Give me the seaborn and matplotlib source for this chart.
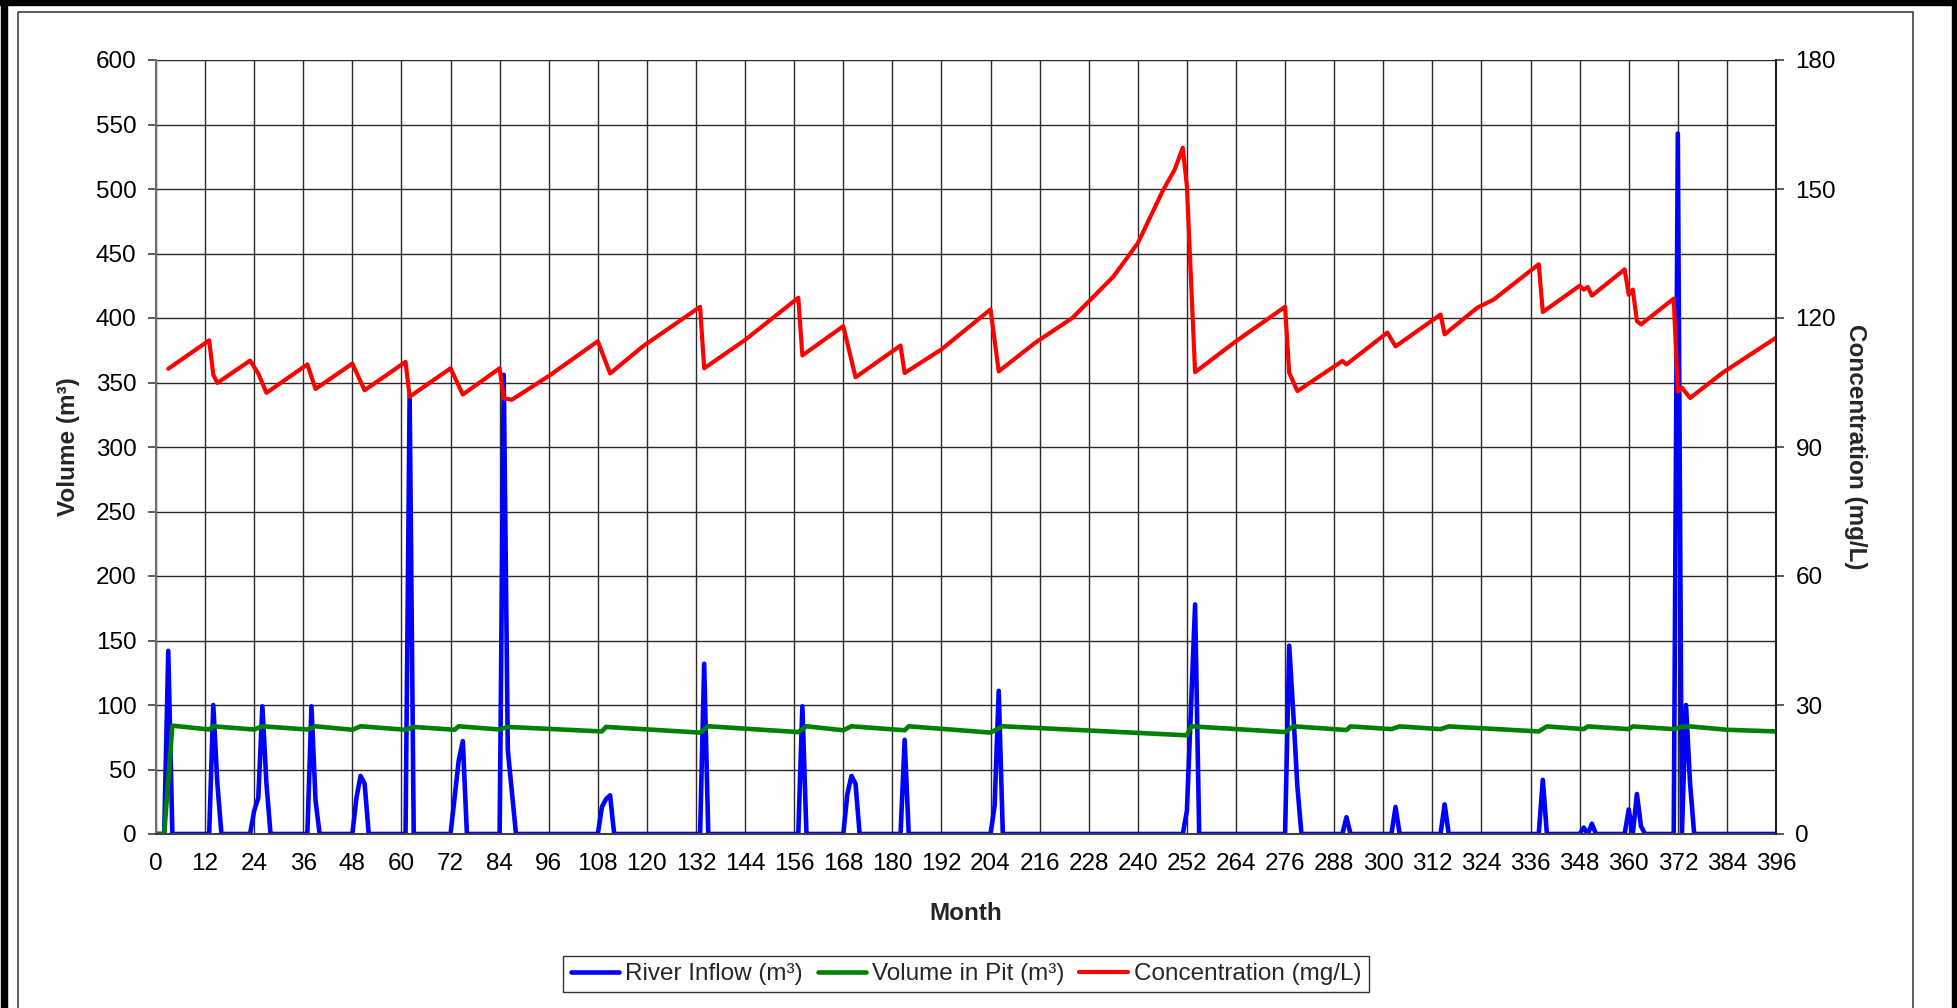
import matplotlib
matplotlib.use("Agg")
import matplotlib.pyplot as plt
import seaborn as sns
from matplotlib.patches import Rectangle
from matplotlib.lines import Line2D

# River inflow (m3): vertices (month, value)
inflow_month = [0, 2, 3, 4, 13, 14, 15, 16, 23, 24, 25, 26, 27, 28, 37, 38, 39, 40,
                48, 49, 50, 51, 52, 61, 62, 63, 72, 74, 75, 76, 84, 85, 86, 88,
                108, 109, 110, 111, 112, 133, 134, 135, 157, 158, 159,
                168, 169, 170, 171, 172, 182, 183, 184, 204, 205, 206, 207,
                251, 252, 254, 255, 276, 277, 278, 279, 280, 290, 291, 292,
                302, 303, 304, 314, 315, 316, 338, 339, 340, 348, 349, 350, 351, 352,
                359, 360, 361, 362, 363, 364, 371, 372, 373, 374, 375, 376, 396]
inflow_m3 = [0, 0, 142, 0, 0, 100, 39, 0, 0, 18, 28, 99, 39, 0, 0, 99, 26, 0,
             0, 28, 45, 39, 0, 0, 340, 0, 0, 57, 72, 0, 0, 356, 65, 0,
             0, 21, 27, 30, 0, 0, 132, 0, 0, 99, 0,
             0, 31, 45, 39, 0, 0, 73, 0, 0, 22, 111, 0,
             0, 18, 178, 0, 0, 146, 94, 37, 0, 0, 13, 0,
             0, 21, 0, 0, 23, 0, 0, 42, 0, 0, 5, 0, 8, 0,
             0, 19, 0, 31, 6, 0, 0, 543, 0, 100, 39, 0, 0]

# Volume in pit (m3)
pit_month = [0, 2, 4, 13, 14, 24, 26, 37, 39, 48, 50, 61, 63, 73, 74, 84, 86,
             109, 110, 133, 135, 157, 159, 168, 170, 183, 184, 204, 207,
             252, 253, 276, 278, 291, 292, 302, 304, 314, 316, 338, 340,
             349, 350, 360, 361, 371, 373, 375, 384, 396]
pit_m3 = [0, 0, 84, 81, 83.5, 81, 83.5, 81, 83.5, 80.8, 83.5, 80.8, 83, 80.8, 83.5, 81, 83,
          79.5, 83, 78.6, 83.5, 79, 83.5, 80.4, 83.5, 80.4, 83.5, 78.6, 83.5,
          76.5, 83.5, 79, 83.5, 80.6, 83.4, 81.3, 83.4, 81.3, 83.4, 79.5, 83.4,
          81.3, 83.4, 81.3, 83.4, 81.3, 83, 83.4, 80.8, 79.5]

# Concentration (mg/L), right axis
conc_month = [3, 13, 14, 15, 23, 25, 27, 37, 39, 48, 51, 61, 62, 72, 75, 84, 85, 87,
              96, 108, 111, 119, 133, 134, 144, 157, 158, 168, 171, 182, 183,
              192, 204, 206, 215, 224, 234, 240, 246, 249, 251, 252, 254,
              264, 276, 277, 279, 290, 291, 301, 303, 314, 315, 323, 327, 338, 339,
              348, 349, 350, 351, 359, 360, 361, 362, 363, 371, 372, 373, 375, 383, 396]
conc_mgl = [108.2, 114.8, 106.8, 104.9, 110.1, 107.1, 102.6, 109.2, 103.5, 109.4, 103.2,
            109.8, 101.7, 108.3, 102.2, 108.3, 101.3, 101.0,
            106.5, 114.6, 107.1, 113.4, 122.6, 108.3, 114.9, 124.7, 111.3, 118.1, 106.2,
            113.6, 107.2, 112.7, 122.0, 107.6, 114.3, 120.0, 129.6, 137.4, 149.4, 154.5,
            159.6, 150.6, 107.4, 114.6, 122.6, 107.3, 103.0, 110.0, 109.2, 116.6, 113.4,
            120.8, 116.2, 122.4, 124.3, 132.5, 121.4, 127.5, 126.6, 127.2, 125.2, 131.3,
            125.4, 126.6, 119.3, 118.5, 124.5, 102.9, 103.8, 101.4, 107.3, 115.4]

month_ticks = list(range(0, 397, 12))
vol_ticks = list(range(0, 601, 50))
conc_ticks = list(range(0, 181, 30))

sns.set_style("white")
plt.rcParams['font.family'] = ['Liberation Sans', 'DejaVu Sans']

W, H = 1957, 1008
fig = plt.figure(figsize=(W / 100, H / 100), dpi=100)
ax = fig.add_axes([156 / W, 1 - 834 / H, 1620 / W, 774 / H])
ax2 = ax.twinx()

sns.lineplot(x=inflow_month, y=inflow_m3, ax=ax, color='#0000ff', lw=3.3,
             estimator=None, label='River Inflow (m³)')
sns.lineplot(x=pit_month, y=pit_m3, ax=ax, color='#008000', lw=3.3,
             estimator=None, label='Volume in Pit (m³)')
sns.lineplot(x=conc_month, y=conc_mgl, ax=ax2, color='#ff0000', lw=3.0,
             estimator=None, label='Concentration (mg/L)')

for a in (ax, ax2):
    if a.get_legend() is not None:
        a.get_legend().remove()
    a.set_xlabel('')
    a.set_ylabel('')

ax.set_xlim(0, 396)
ax.set_ylim(0, 600)
ax2.set_ylim(0, 180)
ax.set_xticks(month_ticks)
ax.set_yticks(vol_ticks)
ax2.set_yticks(conc_ticks)

ax.set_axisbelow(True)
ax.grid(True, color='#2a2a2a', lw=1.0)
ax2.grid(False)

for s in ('top', 'right'):
    ax.spines[s].set_visible(False)
for s in ('top', 'left', 'bottom'):
    ax2.spines[s].set_visible(False)
ax.spines['left'].set_color('#707070')
ax.spines['left'].set_linewidth(1.5)
ax.spines['bottom'].set_color('#404040')
ax.spines['bottom'].set_linewidth(1.5)
ax2.spines['right'].set_color('#202020')
ax2.spines['right'].set_linewidth(1.5)

ax.tick_params(axis='both', direction='out', length=6, width=1.2, color='#404040',
               labelsize=17.5, pad=8, labelcolor='black')
ax2.tick_params(axis='y', direction='out', length=6, width=1.2, color='#404040',
                labelsize=17.5, pad=8, labelcolor='black')

fig.text(69 / W, 1 - 447 / H, 'Volume (m³)', rotation=90, ha='center', va='center',
         fontsize=17.5, fontweight='bold')
fig.text(1856 / W, 1 - 447 / H, 'Concentration (mg/L)', rotation=270, ha='center',
         va='center', fontsize=17.5, fontweight='bold')
fig.text(966 / W, 1 - 913 / H, 'Month', ha='center', va='center',
         fontsize=17.5, fontweight='bold')

h1, l1 = ax.get_legend_handles_labels()
h2, l2 = ax2.get_legend_handles_labels()
leg = fig.legend(h1 + h2, l1 + l2, loc='center', bbox_to_anchor=(966 / W, 1 - 974 / H),
                 ncol=3, frameon=True, fancybox=False, edgecolor='black', fontsize=17.5,
                 handlelength=2.0, handletextpad=0.25, columnspacing=0.6, borderpad=0.3)
leg.get_frame().set_linewidth(1.0)

# chart frame (thin) and the thick black outer border
fig.add_artist(Line2D([17.5 / W, 17.5 / W, 1912.5 / W, 1912.5 / W],
                      [0, 1 - 11.5 / H, 1 - 11.5 / H, 0],
                      transform=fig.transFigure, color='#404040', lw=1.2))
fig.add_artist(Rectangle((1 / W, 0), 6 / W, 1, transform=fig.transFigure, color='black'))
fig.add_artist(Rectangle((0, 1 - 5 / H), 1, 5 / H, transform=fig.transFigure, color='black'))
fig.add_artist(Rectangle((1952 / W, 0), 5 / W, 1, transform=fig.transFigure, color='black'))

fig.savefig('out.png', dpi=100)
